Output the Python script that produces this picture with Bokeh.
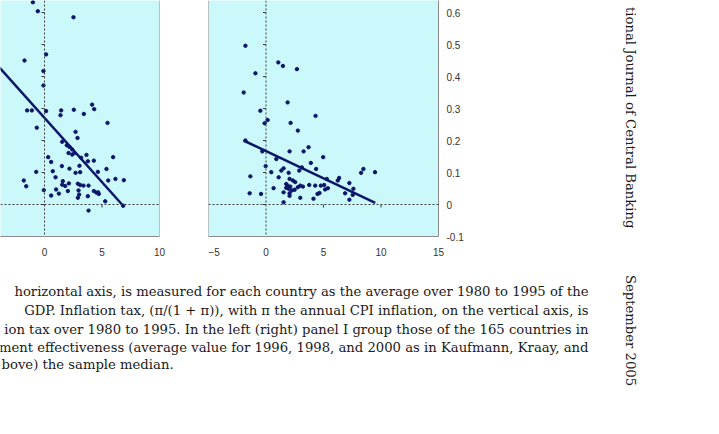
import numpy as np
from bokeh.plotting import figure
from bokeh.layouts import row, column
from bokeh.models import Range1d, Span, FixedTicker, CustomJSTickFormatter, ColumnDataSource
from bokeh.core.properties import value
from bokeh.embed import file_html
from bokeh.resources import INLINE

# ---------------- data ----------------
left_x = [-1.01, -0.58, 2.52, 0.14, -1.74, -0.09, -0.09, -1.51, -1.10, 0.14, 1.45, 1.39, 2.55, 4.14,
          4.32, 3.42, 5.48, -0.67, 2.70, 2.87, 1.54, 1.94, 2.17, 2.41, 2.09, 2.41, 2.61, 0.32, 0.58,
          3.19, 3.65, 3.77, 4.29, 5.97, 1.51, 2.17, 3.04, -0.72, 0.72, 2.70, 3.10, 4.64, 5.39, -1.80,
          -1.59, 0.96, 1.59, 1.54, 1.80, 2.12, 2.90, 3.10, 3.39, 3.83, 5.54, 6.17, 6.90, -0.06, 0.58,
          1.01, 1.25, 2.03, 2.96, 3.01, 2.90, 3.77, 4.29, 4.52, 4.72, 4.67, 5.28, 3.83, 6.84]
left_y = [0.632, 0.604, 0.585, 0.469, 0.450, 0.417, 0.372, 0.294, 0.294, 0.292, 0.294, 0.279, 0.296,
          0.312, 0.298, 0.283, 0.255, 0.240, 0.227, 0.208, 0.196, 0.185, 0.180, 0.172, 0.161, 0.156,
          0.161, 0.148, 0.133, 0.146, 0.155, 0.135, 0.137, 0.148, 0.120, 0.112, 0.121, 0.102, 0.104,
          0.099, 0.101, 0.102, 0.111, 0.075, 0.057, 0.085, 0.073, 0.062, 0.058, 0.066, 0.065, 0.061,
          0.059, 0.059, 0.075, 0.080, 0.076, 0.045, 0.028, 0.047, 0.034, 0.042, 0.044, 0.031, 0.021,
          0.026, 0.042, 0.037, 0.033, 0.038, 0.010, -0.019, -0.004]

right_x = [-1.79, -0.92, -1.94, 1.07, 1.47, 2.69, 1.88, -0.49, 0.14, -0.12, 2.14, 4.31, 2.77, -1.79,
           -0.32, 2.05, 3.27, 3.70, 4.97, 0.90, 3.90, -0.03, -1.36, 0.46, 1.33, 1.53, 1.97, 2.89, 3.12,
           4.36, 1.10, 2.05, 2.34, 2.54, 1.76, 1.88, 2.11, 1.76, 1.97, 2.25, 2.49, 2.77, 2.98, 3.21,
           3.76, 4.28, 4.77, 5.06, 0.66, 1.53, 2.05, 2.05, 2.98, 1.53, 4.13, 4.48, 4.65, 5.14, 5.38,
           5.29, 6.24, 6.36, 7.25, 7.60, 6.88, 7.25, 7.54, 8.27, 8.47, 9.48, -1.42, -0.43]
right_y = [0.496, 0.410, 0.350, 0.444, 0.433, 0.423, 0.319, 0.293, 0.264, 0.254, 0.255, 0.277, 0.231,
           0.200, 0.166, 0.166, 0.166, 0.179, 0.148, 0.142, 0.130, 0.120, 0.088, 0.101, 0.106, 0.113,
           0.099, 0.106, 0.116, 0.111, 0.085, 0.080, 0.075, 0.070, 0.064, 0.059, 0.056, 0.052, 0.049,
           0.044, 0.046, 0.054, 0.059, 0.056, 0.061, 0.059, 0.059, 0.061, 0.051, 0.038, 0.035, 0.027,
           0.021, 0.007, 0.018, 0.033, 0.036, 0.047, 0.051, 0.080, 0.075, 0.083, 0.067, 0.049, 0.035,
           0.015, 0.030, 0.099, 0.111, 0.101, 0.035, 0.033]

fit_left_x = [-6.0, 6.74]
fit_left_y = [0.512, 0.0]
fit_right_x = [-1.95, 9.5]
fit_right_y = [0.200, 0.005]

x_ticks = [-10, -5, 0, 5, 10, 15]
y_ticks = [-0.1, 0, 0.1, 0.2, 0.3, 0.4, 0.5, 0.6]

caption_lines = [
    "horizontal axis, is measured for each country as the average over 1980 to 1995 of the",
    "GDP. Inflation tax, (\u03c0/(1 + \u03c0)), with \u03c0 the annual CPI inflation, on the vertical axis, is",
    "ion tax over 1980 to 1995. In the left (right) panel I group those of the 165 countries in",
    "ment effectiveness (average value for 1996, 1998, and 2000 as in Kaufmann, Kraay, and",
]
caption_last = "bove) the sample median."
running_head = "tional Journal of Central Banking"
date_text = "September 2005"

# ---------------- styles ----------------
BG = "#cbf8fa"
NAVY = "#0a156a"
FRAME = "#8a8a8a"
DASH = "#3a3a3a"
LABEL = "#333333"
SERIF = "DejaVu Serif"
SERIF_SIZE = "13.2px"
Y0, Y1 = -0.1, 0.6375
PX_X = 1 / 11.5     # data units per pixel (x)
PX_Y = 1 / 320.0    # data units per pixel (y)


def style_panel(p):
    p.background_fill_color = BG
    p.border_fill_color = "white"
    p.outline_line_color = None
    p.xgrid.visible = False
    p.ygrid.visible = False
    ax = p.xaxis[0]
    ax.ticker = FixedTicker(ticks=x_ticks)
    ax.major_tick_line_color = None
    ax.minor_tick_line_color = None
    ax.axis_line_color = FRAME
    ax.major_label_standoff = 5
    ax.major_label_text_font = "Liberation Sans"
    ax.major_label_text_font_size = "10px"
    ax.major_label_text_color = LABEL


def zero_lines(p, xr):
    p.add_layout(Span(location=0, dimension="height", line_color=DASH, line_dash="2 2", line_width=1))
    p.add_layout(Span(location=0, dimension="width", line_color=DASH, line_dash="2 2", line_width=1))
    # small ticks along the zero lines
    yt = [t for t in y_ticks]
    p.segment(x0=[0] * len(yt), y0=yt, x1=[-3 * PX_X] * len(yt), y1=yt, line_color=DASH, line_width=1)
    xt = [t for t in x_ticks if xr[0] < t < xr[1] and t != 0]
    p.segment(x0=xt, y0=[0] * len(xt), x1=xt, y1=[-3 * PX_Y] * len(xt), line_color=DASH, line_width=1)


# left panel
lx_range = (10 - 159 * PX_X, 10)
pl = figure(width=208, height=266, x_range=Range1d(*lx_range), y_range=Range1d(Y0, Y1),
            output_backend="svg", toolbar_location=None, y_axis_location=None,
            min_border_left=0, min_border_right=49, min_border_top=0, min_border_bottom=30)
style_panel(pl)
zero_lines(pl, lx_range)
pl.add_layout(Span(location=10, dimension="height", line_color=FRAME, line_width=1))
pl.line(fit_left_x, fit_left_y, line_color=NAVY, line_width=2.5)
pl.scatter(left_x, left_y, size=3.4, color=NAVY, marker="circle")

# right panel
rx_range = (-5, 15)
pr = figure(width=382, height=266, x_range=Range1d(*rx_range), y_range=Range1d(Y0, Y1),
            output_backend="svg", toolbar_location=None, y_axis_location="right",
            min_border_left=0, min_border_right=152, min_border_top=0, min_border_bottom=30)
style_panel(pr)
ya = pr.yaxis[0]
ya.ticker = FixedTicker(ticks=y_ticks)
ya.formatter = CustomJSTickFormatter(code="return Math.abs(tick) < 1e-9 ? '0' : tick.toFixed(1);")
ya.major_tick_line_color = None
ya.minor_tick_line_color = None
ya.axis_line_color = FRAME
ya.major_label_standoff = 2
ya.major_label_text_font = "Liberation Sans"
ya.major_label_text_font_size = "10px"
ya.major_label_text_color = LABEL
zero_lines(pr, rx_range)
pr.add_layout(Span(location=-5, dimension="height", line_color=FRAME, line_width=1))
pr.line(fit_right_x, fit_right_y, line_color=NAVY, line_width=2.5)
pr.scatter(right_x, right_y, size=3.4, color=NAVY, marker="circle")

# caption
cap = figure(width=590, height=168, x_range=Range1d(0, 590), y_range=Range1d(434, 266),
             output_backend="svg", toolbar_location=None, x_axis_location=None, y_axis_location=None,
             min_border=0)
cap.outline_line_color = None
cap.xgrid.visible = False
cap.ygrid.visible = False
cap_src = ColumnDataSource(dict(x=[588, 588, 588, 588], y=[291, 310, 329, 347], t=caption_lines))
cap.text(x="x", y="y", text="t", source=cap_src, text_align="right", text_baseline="alphabetic",
         text_font=value(SERIF), text_font_size=SERIF_SIZE, text_color="#1a1a1a")
cap.text(x=[1], y=[364], text=[caption_last], text_align="left", text_baseline="alphabetic",
         text_font=value(SERIF), text_font_size=SERIF_SIZE, text_color="#1a1a1a")

# running head
side = figure(width=129, height=434, x_range=Range1d(590, 719), y_range=Range1d(434, 0),
              output_backend="svg", toolbar_location=None, x_axis_location=None, y_axis_location=None,
              min_border=0)
side.outline_line_color = None
side.xgrid.visible = False
side.ygrid.visible = False
side.text(x=[630], y=[228], text=[running_head], angle=-np.pi / 2, text_align="right",
          text_baseline="middle", text_font=value(SERIF), text_font_size=SERIF_SIZE,
          text_color="#1a1a1a")
side.text(x=[630], y=[330], text=[date_text], angle=-np.pi / 2, text_align="center",
          text_baseline="middle", text_font=value(SERIF), text_font_size=SERIF_SIZE,
          text_color="#1a1a1a")

layout = row(column(row(pl, pr), cap), side)
open("out.html", "w").write(file_html(layout, INLINE))
